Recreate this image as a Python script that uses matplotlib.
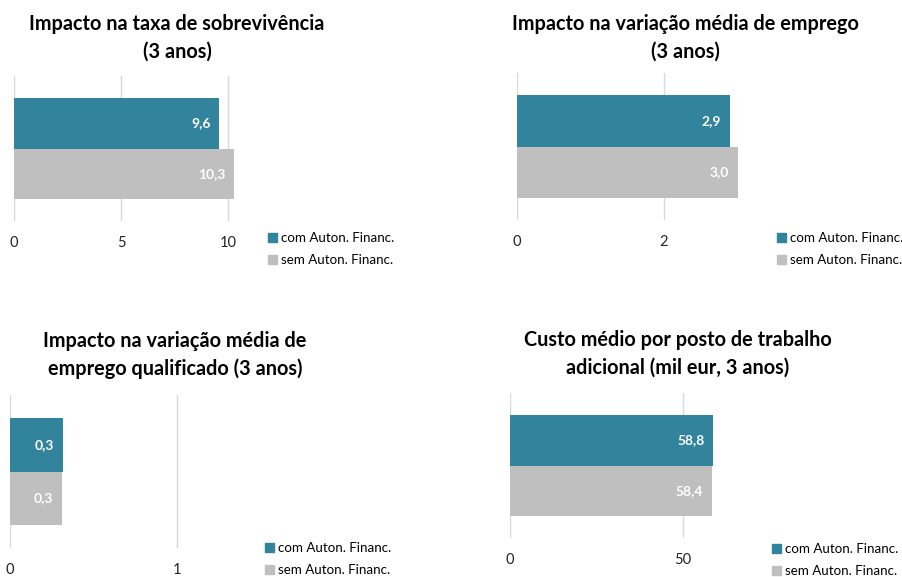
import matplotlib.pyplot as plt
from matplotlib.patches import Patch

plt.rcParams['font.family'] = ['Lato', 'DejaVu Sans']

# data
series = ["com Auton. Financ.", "sem Auton. Financ."]
colors = ["#31849B", "#BFBFBF"]

titles = [
    "Impacto na taxa de sobrevivência\n(3 anos)",
    "Impacto na variação média de emprego\n(3 anos)",
    "Impacto na variação média de\nemprego qualificado (3 anos)",
    "Custo médio por posto de trabalho\nadicional (mil eur, 3 anos)",
]
sobrevivencia = [9.6, 10.3]
emprego = [2.9, 3.0]
emprego_qualif = [0.32, 0.31]
custo_posto = [58.8, 58.4]
values = [sobrevivencia, emprego, emprego_qualif, custo_posto]
ticks = [[0, 5, 10], [0, 2], [0, 1], [0, 50]]
xmax = [10.5, 3.05, 1.02, 60]

W, H = 903, 577
fig = plt.figure(figsize=(W / 100, H / 100), dpi=100)

# panel layout in pixels: x0 (zero), px per unit, grid top, grid bottom,
# title centre x, title centre y, legend x, legend y
layout = [
    (14, 21.4, 76, 221, 177, 38, 268, 239),
    (517, 73.5, 73, 220, 685, 38, 777, 239),
    (10, 167.0, 395, 548, 175, 355, 265, 549),
    (510, 3.46, 393, 538, 678, 354, 772, 550),
]


def fx(px):
    return px / W


def fy(py):
    return 1 - py / H


for i in range(4):
    x0, scale, gtop, gbot, tx, ty, lx, ly = layout[i]
    width = xmax[i] * scale
    ax = fig.add_axes([fx(x0), fy(gbot), width / W, (gbot - gtop) / H])
    pos = [0.325, 0.675]
    for j in range(2):
        ax.barh(pos[j], values[i][j], height=0.35, color=colors[j], clip_on=False, zorder=3)
        ax.annotate(f"{values[i][j]:.1f}".replace(".", ","), (values[i][j], pos[j]),
                    xytext=(-6.5, 0), textcoords="offset points",
                    ha="right", va="center", color="white", fontsize=10,
                    fontweight="bold", zorder=4)
    ax.set_ylim(1, 0)
    ax.set_xlim(0, xmax[i])
    ax.set_xticks(ticks[i])
    ax.set_xticklabels([str(t) for t in ticks[i]], fontsize=10.5, color="#222222")
    ax.set_yticks([])
    ax.grid(axis="x", color="#D9D9D9", linewidth=1, zorder=0)
    ax.tick_params(axis="x", length=0, pad=11)
    for s in ax.spines.values():
        s.set_visible(False)

    fig.text(fx(tx), fy(ty), titles[i], ha="center", va="center",
             fontsize=14.3, fontweight="bold", linespacing=1.45)

    handles = [Patch(color=colors[k], label=series[k]) for k in range(2)]
    fig.legend(handles=handles, loc="upper left",
               bbox_to_anchor=(fx(lx), fy(ly - 7)), frameon=False,
               fontsize=9.6, handlelength=0.7, handleheight=0.7,
               handletextpad=0.3, labelspacing=0.75, borderpad=0,
               borderaxespad=0)

fig.savefig("out.png", dpi=100)
